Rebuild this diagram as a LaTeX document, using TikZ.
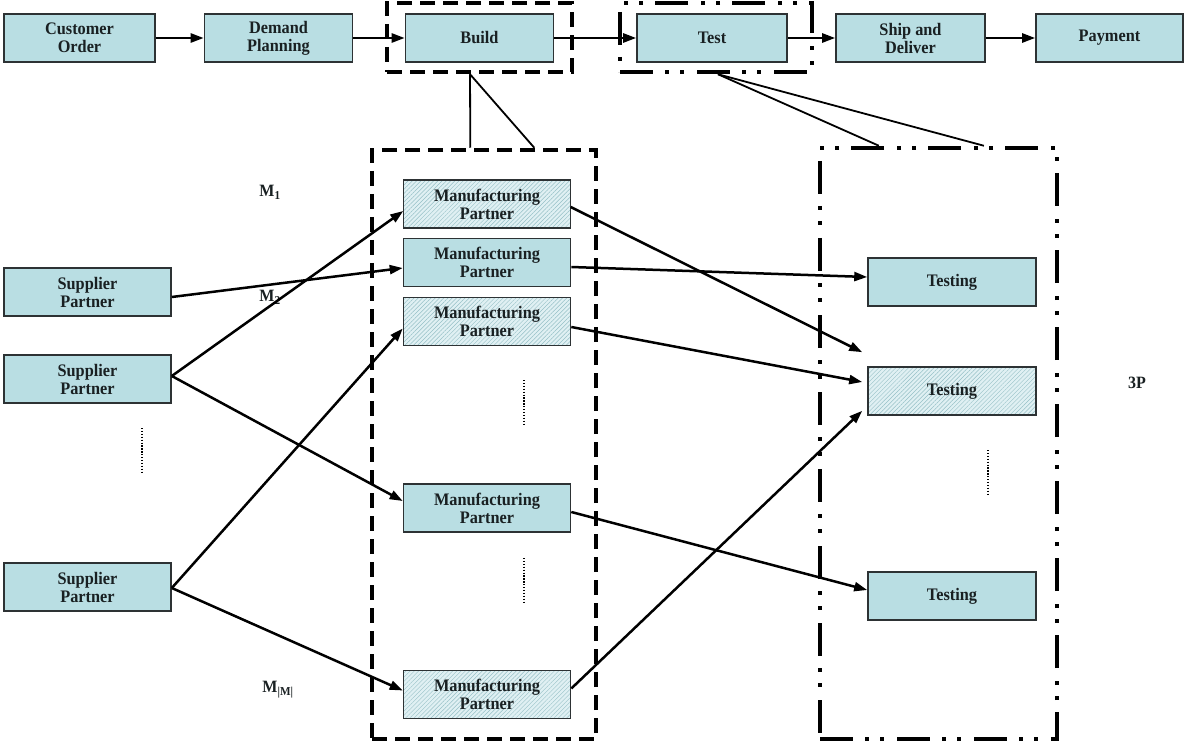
\documentclass[tikz,border=0pt]{standalone}
\usepackage{fontspec}
\usepackage{graphicx}
\setmainfont{Liberation Serif}
\usetikzlibrary{arrows.meta,patterns.meta,calc}
\definecolor{boxfill}{RGB}{185,222,227}
\definecolor{hatchbg}{RGB}{224,240,243}
\definecolor{hatchln}{RGB}{150,192,198}
\definecolor{boxline}{RGB}{45,50,52}
\definecolor{txt}{RGB}{25,32,34}
\newcommand\vs[1]{\scalebox{1}[1.08]{#1}}
\begin{document}
\begin{tikzpicture}[x=1pt,y=-1pt,
  base/.style={draw=boxline,line width=1.6pt,minimum height=48pt,align=center,
    font=\bfseries\fontsize{16.3}{18}\selectfont,text=txt,inner sep=0pt},
  sbox/.style={base,fill=boxfill},
  hbox/.style={base,preaction={fill=hatchbg},
    pattern={Lines[angle=45,distance=3pt,line width=0.45pt]},pattern color=hatchln},
  arr/.style={line width=2.5pt,-{Triangle[length=13pt,width=9pt]}},
  link/.style={line width=1.8pt},
  dashgrp/.style={draw,line width=4.5pt,dash pattern=on 15pt off 8pt,inner sep=0pt},
  ddgrp/.style={draw,line width=4.5pt,dash pattern=on 33pt off 12pt on 4pt off 11pt on 4pt off 13pt,inner sep=0pt},
  dots/.style={line width=1.3pt,dash pattern=on 1.3pt off 1.6pt},
  lbl/.style={font=\bfseries\fontsize{16}{18}\selectfont,text=txt,inner sep=0pt}]
\fill[white] (0,0) rectangle (1186,746);
\useasboundingbox (0,0) rectangle (1186,746);

% top row
\node[sbox,minimum width=151pt] (cust)  at (79.5,38)  {\vs{Customer}\\\vs{Order}};
\node[sbox,minimum width=148pt] (dem)   at (278.5,38) {\vs{Demand}\\\vs{Planning}};
\node[sbox,minimum width=148pt] (build) at (479.5,38) {\vs{Build}};
\node[sbox,minimum width=150pt] (test)  at (712,38)   {\vs{Test}};
\node[sbox,minimum width=149pt] (ship)  at (910.5,38) {\vs{Ship and}\\\vs{Deliver}};
\node[sbox,minimum width=147pt] (pay)   at (1109.5,38) {\vs{Payment}};

\draw[arr] (cust) -- (dem);
\draw[arr] (dem) -- (build);
\draw[arr] (build) -- (test);
\draw[arr] (test) -- (ship);
\draw[arr] (ship) -- (pay);

% group frames
\node[dashgrp,minimum width=185pt,minimum height=69pt] (bgrp) at (479.5,37.5) {};
\node[ddgrp,minimum width=192pt,minimum height=69pt] (tgrp) at (716,37.5) {};
\node[dashgrp,minimum width=224pt,minimum height=589pt] (mgrp) at (484,444.5) {};
\node[ddgrp,minimum width=237pt,minimum height=591pt] (pgrp) at (938.5,443.5) {};

% links from top groups
\coordinate (b0) at ($(bgrp.south west)!0.45!(bgrp.south east)$);
\coordinate (b1) at ($(mgrp.north west)!0.44!(mgrp.north east)$);
\coordinate (b2) at ($(mgrp.north west)!0.72!(mgrp.north east)$);
\draw[link] (b0) -- (b1);
\draw[link] (b0) -- (b2);
\coordinate (t0) at ($(tgrp.south west)!0.51!(tgrp.south east)$);
\coordinate (t1) at ($(pgrp.north west)!0.253!(pgrp.north east)$);
\coordinate (t2) at ($(pgrp.north west)!0.688!(pgrp.north east)$);
\draw[link] (t0) -- (t1);
\draw[link] (t0) -- (t2);

% suppliers
\node[sbox,minimum width=167pt] (s1) at (87.5,292) {\vs{Supplier}\\\vs{Partner}};
\node[sbox,minimum width=167pt] (s2) at (87.5,379) {\vs{Supplier}\\\vs{Partner}};
\node[sbox,minimum width=167pt] (s3) at (87.5,587) {\vs{Supplier}\\\vs{Partner}};

% manufacturing partners
\node[hbox,minimum width=167pt] (m1) at (487,204)   {\vs{Manufacturing}\\\vs{Partner}};
\node[sbox,minimum width=167pt] (m2) at (487,262.5) {\vs{Manufacturing}\\\vs{Partner}};
\node[hbox,minimum width=167pt] (m3) at (487,321.5) {\vs{Manufacturing}\\\vs{Partner}};
\node[sbox,minimum width=167pt] (m4) at (487,508)   {\vs{Manufacturing}\\\vs{Partner}};
\node[hbox,minimum width=167pt] (m5) at (487,694.5) {\vs{Manufacturing}\\\vs{Partner}};

% testing
\node[sbox,minimum width=168pt] (p1) at (952,282) {\vs{Testing}};
\node[hbox,minimum width=168pt] (p2) at (952,391) {\vs{Testing}};
\node[sbox,minimum width=168pt] (p3) at (952,596) {\vs{Testing}};

% labels
\node[lbl] (l1) at (270,192) {\vs{M\textsubscript{1}}};
\node[lbl] (l2) at (270,297) {\vs{M\textsubscript{2}}};
\node[lbl] (l3) at (278,690) {\vs{M\textsubscript{|M|}}};
\node[lbl] (l4) at (1137,383) {\vs{3P}};

% supplier -> manufacturing
\draw[arr] ([yshift=-5pt]s1.east) -- ([yshift=-5.5pt]m2.west);
\draw[arr] ([yshift=3pt]s2.east) -- ([yshift=-7pt]m1.west);
\draw[arr] ([yshift=3pt]s2.east) -- ([yshift=7pt]m4.west);
\draw[arr] ([yshift=-1pt]s3.east) -- ([yshift=-7pt]m3.west);
\draw[arr] ([yshift=-1pt]s3.east) -- ([yshift=4pt]m5.west);

% manufacturing -> testing
\draw[arr] ([yshift=-3pt]m1.east) -- ([xshift=-5pt,yshift=14pt]p2.north west);
\draw[arr] ([yshift=-4.5pt]m2.east) -- ([yshift=5pt]p1.west);
\draw[arr] ([yshift=-5.5pt]m3.east) -- ([xshift=-5pt,yshift=9pt]p2.west);
\draw[arr] ([yshift=-4pt]m4.east) -- ([yshift=6pt]p3.west);
\draw[arr] ([yshift=6pt]m5.east) -- ([xshift=-5pt,yshift=5pt]p2.south west);

% ellipsis dots
\draw[dots] (142,428) -- (142,474);
\draw[dots] (524,380) -- (524,425);
\draw[dots] (524,558) -- (524,603);
\draw[dots] (988,450) -- (988,495);
\end{tikzpicture}
\end{document}
